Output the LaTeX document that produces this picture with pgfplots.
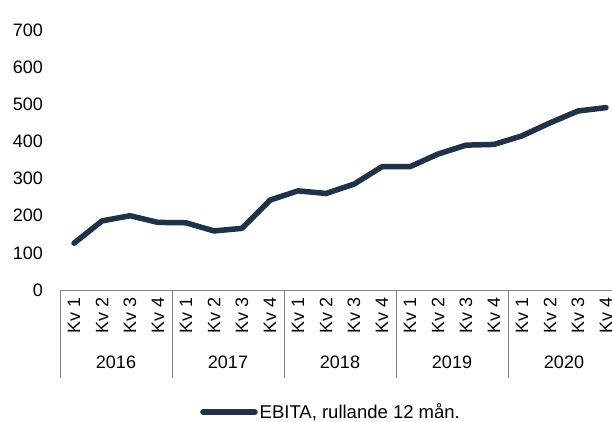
\documentclass[border=0pt]{standalone}
\usepackage{fontspec}
\setmainfont{Liberation Sans}
\usepackage{pgfplots}
\pgfplotsset{compat=1.18}
\definecolor{ebita}{RGB}{31,50,72}
\definecolor{axgray}{RGB}{128,128,128}

\begin{document}
\fontsize{18}{21}\selectfont
\begin{tikzpicture}
\useasboundingbox (0pt,0pt) rectangle (612pt,421pt);
\begin{axis}[
  at={(60pt,131pt)}, anchor=south west,
  scale only axis, width=560pt, height=260pt,
  xmin=-0.5, xmax=19.5, ymin=0, ymax=700,
  clip=false,
  axis x line=bottom, axis y line=left,
  x axis line style={draw=axgray, line width=0.8pt, -},
  y axis line style={draw=none},
  xtick={0,...,19},
  xticklabels={Kv 1,Kv 2,Kv 3,Kv 4,Kv 1,Kv 2,Kv 3,Kv 4,Kv 1,Kv 2,Kv 3,Kv 4,Kv 1,Kv 2,Kv 3,Kv 4,Kv 1,Kv 2,Kv 3,Kv 4},
  ytick={0,100,...,700},
  major tick length=0pt,
  xticklabel style={yshift=-7pt, rotate=90, anchor=east, inner sep=0pt},
  yticklabel style={anchor=east, inner sep=0pt, xshift=-17pt},
  extra x ticks={-0.5,3.5,7.5,11.5,15.5,19.5},
  extra x tick labels={},
  extra x tick style={major tick length=88pt, tick align=outside,
    tick style={draw=axgray, line width=0.8pt}},
  /pgf/number format/assume math mode=true,
  legend style={at={(0.484,-0.469)}, anchor=center, draw=none, fill=none,
    font=\fontsize{18.5}{21}\selectfont},
  legend cell align=left,
]
\addplot[ebita, line width=5.5pt, line cap=round, line join=round,
  legend image code/.code={\draw[ebita, line width=5.5pt, line cap=round] (0pt,0pt) -- (52pt,0pt);}]
  coordinates {
  (0,126) (1,186) (2,200) (3,182)
  (4,181) (5,159) (6,166) (7,242)
  (8,267) (9,260) (10,285) (11,332)
  (12,332) (13,366) (14,390) (15,392)
  (16,415) (17,450) (18,482) (19,491)
  };
\addlegendentry{EBITA, rullande 12 mån.}
\node[yshift=-72pt] at (axis cs:1.5,0) {2016};
\node[yshift=-72pt] at (axis cs:5.5,0) {2017};
\node[yshift=-72pt] at (axis cs:9.5,0) {2018};
\node[yshift=-72pt] at (axis cs:13.5,0) {2019};
\node[yshift=-72pt] at (axis cs:17.5,0) {2020};
\end{axis}
\end{tikzpicture}
\end{document}
